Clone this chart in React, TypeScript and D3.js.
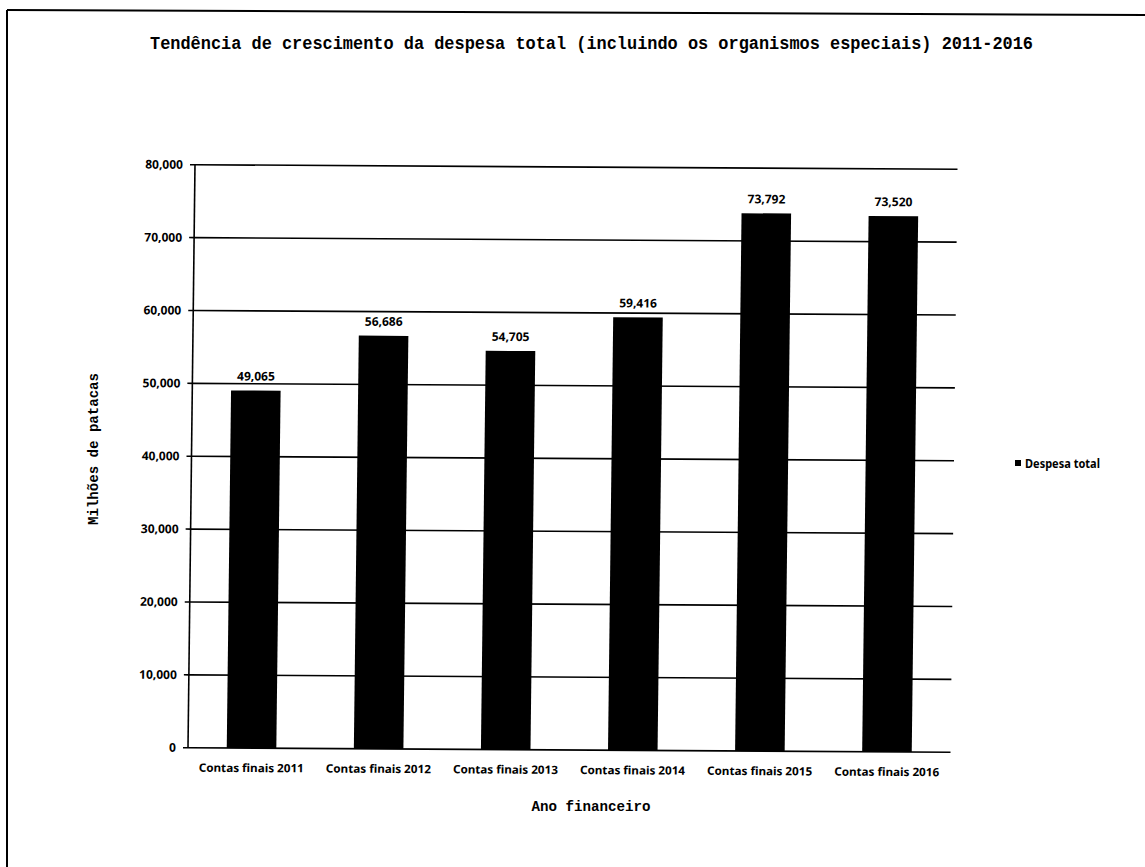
import React from 'react';
import * as d3 from 'd3';

// Total expenditure per financial year (million patacas)
const categories = [
  'Contas finais 2011',
  'Contas finais 2012',
  'Contas finais 2013',
  'Contas finais 2014',
  'Contas finais 2015',
  'Contas finais 2016',
];
const despesaTotal = [49065, 56686, 54705, 59416, 73792, 73520];
const yTickValues = [0, 10000, 20000, 30000, 40000, 50000, 60000, 70000, 80000];

const chartTitle = 'Tendência de crescimento da despesa total (incluindo os organismos especiais) 2011-2016';
const xTitle = 'Ano financeiro';
const yTitle = 'Milhões de patacas';
const seriesName = 'Despesa total';

const W = 1145;
const H = 867;
const plot = { left: 191.5, right: 954, top: 167, bottom: 750 };

const sansFont = "'Noto Sans', 'Open Sans', sans-serif";
const monoFont = "'Liberation Mono', 'DejaVu Sans Mono', monospace";

export default function App() {
  const x = d3
    .scaleBand<string>()
    .domain(categories)
    .range([plot.left, plot.right])
    .paddingInner(0.61)
    .paddingOuter(0.305);
  const y = d3.scaleLinear().domain([0, 80000]).range([plot.bottom, plot.top]);
  const fmt = d3.format(',');

  // slight skew of the scanned page
  const cx = 572;
  const cy = 458;
  const a = -0.012;
  const b = 0.006;
  const skew = `matrix(1, ${b}, ${a}, 1, ${-a * cy}, ${-b * cx})`;

  return (
    <svg
      width={W}
      height={H}
      viewBox={`0 0 ${W} ${H}`}
      style={{ position: 'absolute', left: 0, top: 0, background: '#fff' }}
    >
      <rect x={0} y={0} width={W} height={H} fill="#fff" />
      {/* page frame */}
      <line x1={7} y1={10} x2={W} y2={15} stroke="#000" strokeWidth={2} />
      <line x1={7} y1={10} x2={7} y2={H} stroke="#000" strokeWidth={2} />

      <text
        x={591.5}
        y={49}
        textAnchor="middle"
        fontFamily={monoFont}
        fontWeight="bold"
        fontSize={17.5}
        textLength={883}
        lengthAdjust="spacingAndGlyphs"
        fill="#000"
      >
        {chartTitle}
      </text>

      <g transform={skew}>
        {/* gridlines */}
        {yTickValues
          .filter((t) => t > 0)
          .map((t) => (
            <line
              key={`g${t}`}
              x1={plot.left}
              x2={plot.right}
              y1={y(t)}
              y2={y(t)}
              stroke="#000"
              strokeWidth={1.6}
            />
          ))}
        {/* y ticks and labels */}
        {yTickValues.map((t) => (
          <g key={`t${t}`}>
            <line x1={plot.left - 5} x2={plot.left} y1={y(t)} y2={y(t)} stroke="#000" strokeWidth={1.6} />
            <text
              x={plot.left - 12}
              y={y(t)}
              dy="0.35em"
              textAnchor="end"
              fontFamily={sansFont}
              fontWeight="bold"
              fontSize={12}
              fill="#000"
            >
              {fmt(t)}
            </text>
          </g>
        ))}
        {/* bars */}
        {categories.map((c, i) => (
          <rect
            key={`b${c}`}
            x={x(c)}
            y={y(despesaTotal[i])}
            width={x.bandwidth()}
            height={y(0) - y(despesaTotal[i])}
            fill="#000"
          />
        ))}
        {/* value labels */}
        {categories.map((c, i) => (
          <text
            key={`v${c}`}
            x={(x(c) as number) + x.bandwidth() / 2}
            y={y(despesaTotal[i]) - 10}
            textAnchor="middle"
            fontFamily={sansFont}
            fontWeight="bold"
            fontSize={12}
            fill="#000"
          >
            {fmt(despesaTotal[i])}
          </text>
        ))}
        {/* axes */}
        <line x1={plot.left} x2={plot.left} y1={y(80000)} y2={y(0)} stroke="#000" strokeWidth={1.6} />
        <line x1={plot.left} x2={plot.right} y1={y(0)} y2={y(0)} stroke="#000" strokeWidth={1.6} />
        {/* category labels */}
        {categories.map((c) => (
          <text
            key={`c${c}`}
            x={(x(c) as number) + x.bandwidth() / 2}
            y={774}
            textAnchor="middle"
            fontFamily={sansFont}
            fontWeight="bold"
            fontSize={11.5}
            textLength={105}
            lengthAdjust="spacingAndGlyphs"
            fill="#000"
          >
            {c}
          </text>
        ))}
      </g>

      {/* axis titles */}
      <text
        x={591}
        y={811}
        textAnchor="middle"
        fontFamily={monoFont}
        fontWeight="bold"
        fontSize={15}
        textLength={119}
        lengthAdjust="spacingAndGlyphs"
        fill="#000"
      >
        {xTitle}
      </text>
      <text
        transform="translate(98,449) rotate(-90)"
        textAnchor="middle"
        fontFamily={monoFont}
        fontWeight="bold"
        fontSize={15}
        textLength={152}
        lengthAdjust="spacingAndGlyphs"
        fill="#000"
      >
        {yTitle}
      </text>

      {/* legend */}
      <rect x={1015} y={460} width={6} height={6} fill="#000" />
      <text
        x={1025}
        y={467.5}
        fontFamily={sansFont}
        fontWeight="bold"
        fontSize={11.5}
        textLength={75}
        lengthAdjust="spacingAndGlyphs"
        fill="#000"
      >
        {seriesName}
      </text>
    </svg>
  );
}
